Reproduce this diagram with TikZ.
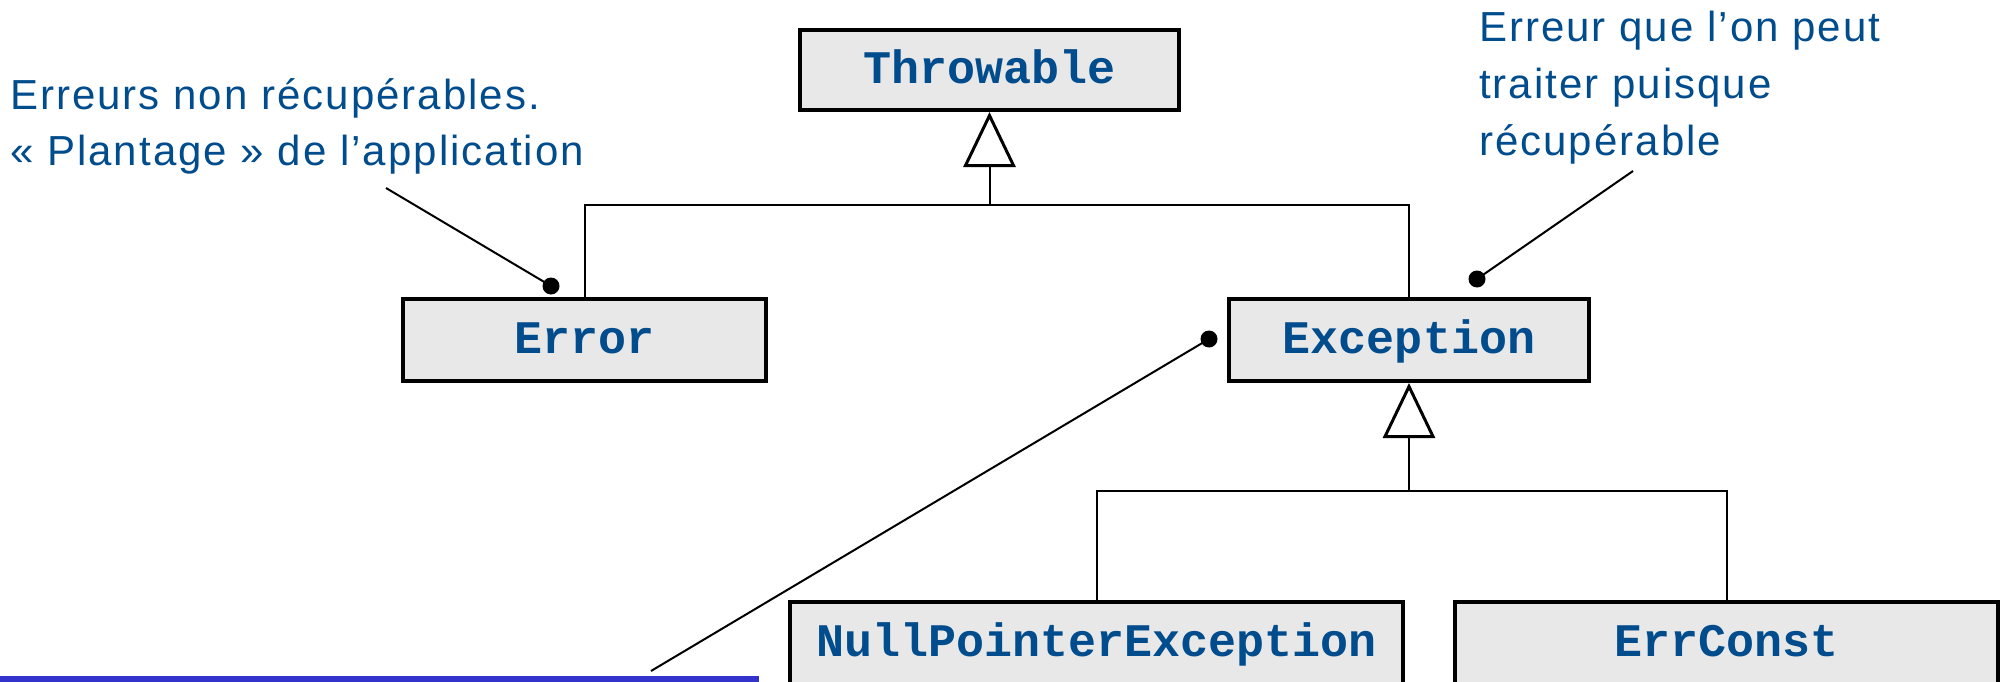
\documentclass[tikz,border=0pt]{standalone}
\usepackage{fontspec}
\setmainfont{Liberation Sans}
\setmonofont{Liberation Mono}
\newfontfamily\notefont[LetterSpace=4.8]{Liberation Sans}
\usetikzlibrary{arrows.meta}
\definecolor{txtblue}{RGB}{0,76,140}
\definecolor{boxgray}{RGB}{232,232,232}
\definecolor{barblue}{RGB}{51,51,204}
\begin{document}
\begin{tikzpicture}[x=1pt,y=-1pt,
  classbox/.style={draw=black, line width=4pt, fill=boxgray, inner sep=0pt,
    minimum height=82pt, text height=27pt, text depth=0pt,
    font=\fontsize{46.7}{50}\ttfamily\bfseries, text=txtblue},
  link/.style={line width=2pt},
  inherit/.style={link, -{Triangle[open, length=55pt, width=52pt, line width=3pt]}},
  dot/.style={circle, fill=black, inner sep=0pt, minimum size=17pt},
  note/.style={font=\fontsize{42}{50}\notefont, text=txtblue, anchor=base west, inner sep=0pt},
]
\useasboundingbox (0,0) rectangle (2004,682);
\clip (0,0) rectangle (2004,682);

% class boxes
\node[classbox, minimum width=379pt, minimum height=80pt] (thr) at (989.5,70) {Throwable};
\node[classbox, minimum width=363pt] (err) at (584.5,340) {Error};
\node[classbox, minimum width=360pt] (exc) at (1409,340) {Exception};
\node[classbox, minimum width=613pt] (npe) at (1096.5,643) {NullPointerException};
\node[classbox, minimum width=543pt] (ecst) at (1726.5,643) {ErrConst};

% inheritance
\coordinate (j1) at (989.5,205);
\draw[link] (err.north) |- (j1) -| (exc.north);
\draw[inherit] (j1) -- (thr.south);
\coordinate (j2) at (1409,491);
\draw[link] (npe.north) |- (j2) -| (ecst.north);
\draw[inherit] (j2) -- (exc.south);

% notes
\node[note] (n1a) at (10,110) {Erreurs non récupérables.};
\node[note] (n1b) at (10,165) {« Plantage » de l’application};
\node[note] (n2a) at (1479,42) {Erreur que l’on peut};
\node[note] (n2b) at (1479,99) {traiter puisque};
\node[note] (n2c) at (1479,155) {récupérable};

% leaders
\node[dot] (d1) at (551,286) {};
\node[dot] (d2) at (1477,279) {};
\node[dot] (d3) at (1209,339) {};
\coordinate (l1) at (386,188);
\coordinate (l2) at (1633,171);
\coordinate (l3) at (651,671);
\draw[link] (l1) -- (d1.center);
\draw[link] (l2) -- (d2.center);
\draw[link] (l3) -- (d3.center);

% blue bar at bottom
\fill[barblue] (0,676) rectangle (759,682);
\end{tikzpicture}
\end{document}
